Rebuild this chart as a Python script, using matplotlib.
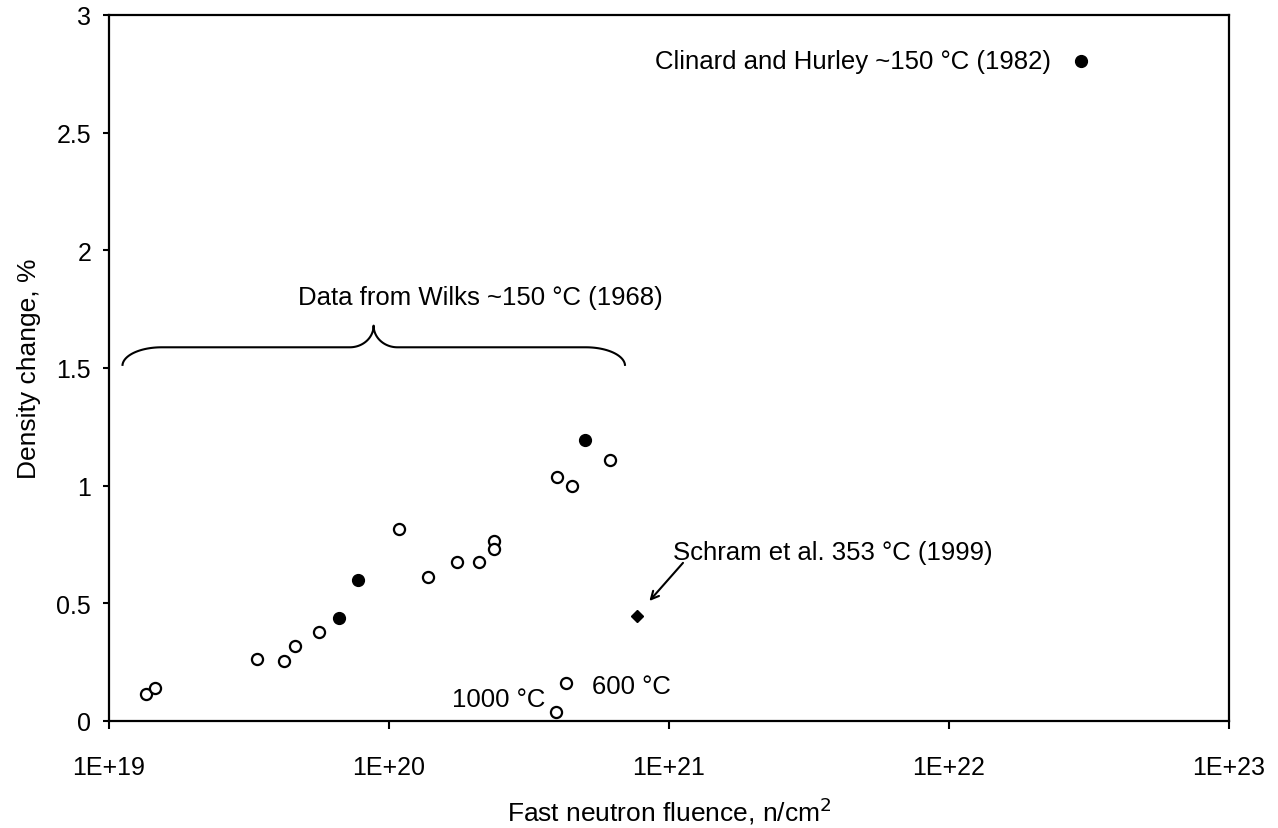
import numpy as np
import matplotlib
matplotlib.use("Agg")
import matplotlib.pyplot as plt
from matplotlib.ticker import FixedLocator, FixedFormatter, NullLocator

plt.rcParams['font.family'] = ['Liberation Sans', 'DejaVu Sans']

# ---- data ----
wilks_open_x = [1.36e19, 1.46e19, 3.38e19, 4.22e19, 4.62e19, 5.62e19, 1.09e20,
                1.38e20, 1.75e20, 2.10e20, 2.37e20, 2.37e20, 3.98e20, 4.51e20, 6.15e20]
wilks_open_y = [0.115, 0.14, 0.265, 0.255, 0.32, 0.38, 0.816,
                0.614, 0.675, 0.675, 0.765, 0.731, 1.035, 0.997, 1.111]
high_temp_x = [3.95e20, 4.29e20]      # 1000 C, 600 C
high_temp_y = [0.037, 0.16]
wilks_filled_x = [6.62e19, 7.74e19, 5.01e20]
wilks_filled_y = [0.437, 0.601, 1.196]
clinard_x = [2.96e22]
clinard_y = [2.805]
schram_x = [7.66e20]
schram_y = [0.447]

xticks = [1e19, 1e20, 1e21, 1e22, 1e23]
xticklabels = ["1E+19", "1E+20", "1E+21", "1E+22", "1E+23"]
yticks = [0, 0.5, 1, 1.5, 2, 2.5, 3]
yticklabels = ["0", "0.5", "1", "1.5", "2", "2.5", "3"]

FS_TICK = 18
FS_TXT = 18.5
FS_LAB = 19

fig = plt.figure(figsize=(12.78, 8.29), dpi=100)
ax = fig.add_axes([109/1278, 1-722/829, 1120/1278, 706/829])
ax.set_xscale('log')
ax.set_xlim(1e19, 1e23)
ax.set_ylim(0, 3)

ax.plot(wilks_open_x, wilks_open_y, 'o', mfc='white', mec='black', ms=8, mew=1.6, ls='none', zorder=3)
ax.plot(high_temp_x, high_temp_y, 'o', mfc='white', mec='black', ms=8, mew=1.6, ls='none', zorder=3)
ax.plot(wilks_filled_x, wilks_filled_y, 'o', mfc='black', mec='black', ms=8.5, ls='none', zorder=3)
ax.plot(clinard_x, clinard_y, 'o', mfc='black', mec='black', ms=8.5, ls='none', zorder=3)
ax.plot(schram_x, schram_y, 'D', mfc='black', mec='black', ms=6, ls='none', zorder=3)

# ---- ticks / axes ----
ax.xaxis.set_major_locator(FixedLocator(xticks))
ax.xaxis.set_major_formatter(FixedFormatter(xticklabels))
ax.xaxis.set_minor_locator(NullLocator())
ax.yaxis.set_major_locator(FixedLocator(yticks))
ax.yaxis.set_major_formatter(FixedFormatter(yticklabels))
ax.tick_params(axis='x', direction='out', length=5.8, width=1.5, labelsize=FS_TICK, pad=19)
ax.tick_params(axis='y', direction='out', length=4.3, width=1.5, labelsize=FS_TICK, pad=8.5)
for s in ax.spines.values():
    s.set_linewidth(1.6)
    s.set_color('black')

ax.set_xlabel("Fast neutron fluence, n/cm$^2$", fontsize=FS_LAB)
ax.xaxis.set_label_coords(0.5, -0.104)
ax.set_ylabel("Density change, %", fontsize=FS_LAB)
ax.yaxis.set_label_coords(-0.061, 0.5)

# ---- annotations ----
ax.text(10**22.364, 2.805, "Clinard and Hurley ~150 °C (1982)", fontsize=FS_TXT,
        ha='right', va='center')
ax.text(10**19.675, 1.80, "Data from Wilks ~150 °C (1968)", fontsize=FS_TXT,
        ha='left', va='center')
ax.text(10**21.014, 0.72, "Schram et al. 353 °C (1999)", fontsize=FS_TXT,
        ha='left', va='center')
ax.text(10**20.557, 0.095, "1000 °C", fontsize=FS_TXT, ha='right', va='center')
ax.text(10**20.725, 0.15, "600 °C", fontsize=FS_TXT, ha='left', va='center')

ax.annotate("", xy=(10**20.93, 0.51), xytext=(10**21.05, 0.672),
            arrowprops=dict(arrowstyle='->', color='black', lw=1.5,
                            shrinkA=0, shrinkB=0, mutation_scale=14))

# ---- brace (annotation shape, in log10-x space) ----
xl, xtip, xr = 19.048, 19.945, 20.843
y_end, y_flat, y_tip = 1.509, 1.588, 1.680
c = 0.14   # horizontal extent of end curves (decades)
ct = 0.085  # horizontal extent of tip curves
t = np.linspace(0, np.pi/2, 30)
seg1_x = xl + c*(1-np.cos(t)); seg1_y = y_end + (y_flat-y_end)*np.sin(t)
seg2_x = np.array([xl + c, xtip - ct]); seg2_y = np.array([y_flat, y_flat])
seg3_x = xtip - ct + ct*np.sin(t); seg3_y = y_flat + (y_tip-y_flat)*(1-np.cos(t))
seg4_x = xtip + ct*(1-np.sin(t[::-1])); seg4_y = y_flat + (y_tip-y_flat)*(1-np.cos(t[::-1]))
seg5_x = np.array([xtip + ct, xr - c]); seg5_y = np.array([y_flat, y_flat])
seg6_x = xr - c + c*np.sin(t); seg6_y = y_flat - (y_flat-y_end)*(1-np.cos(t))
bx = np.concatenate([seg1_x, seg2_x, seg3_x, seg4_x, seg5_x, seg6_x])
by = np.concatenate([seg1_y, seg2_y, seg3_y, seg4_y, seg5_y, seg6_y])
ax.plot(10**bx, by, color='black', lw=1.5, solid_capstyle='butt')

fig.savefig("out.png", dpi=100)
